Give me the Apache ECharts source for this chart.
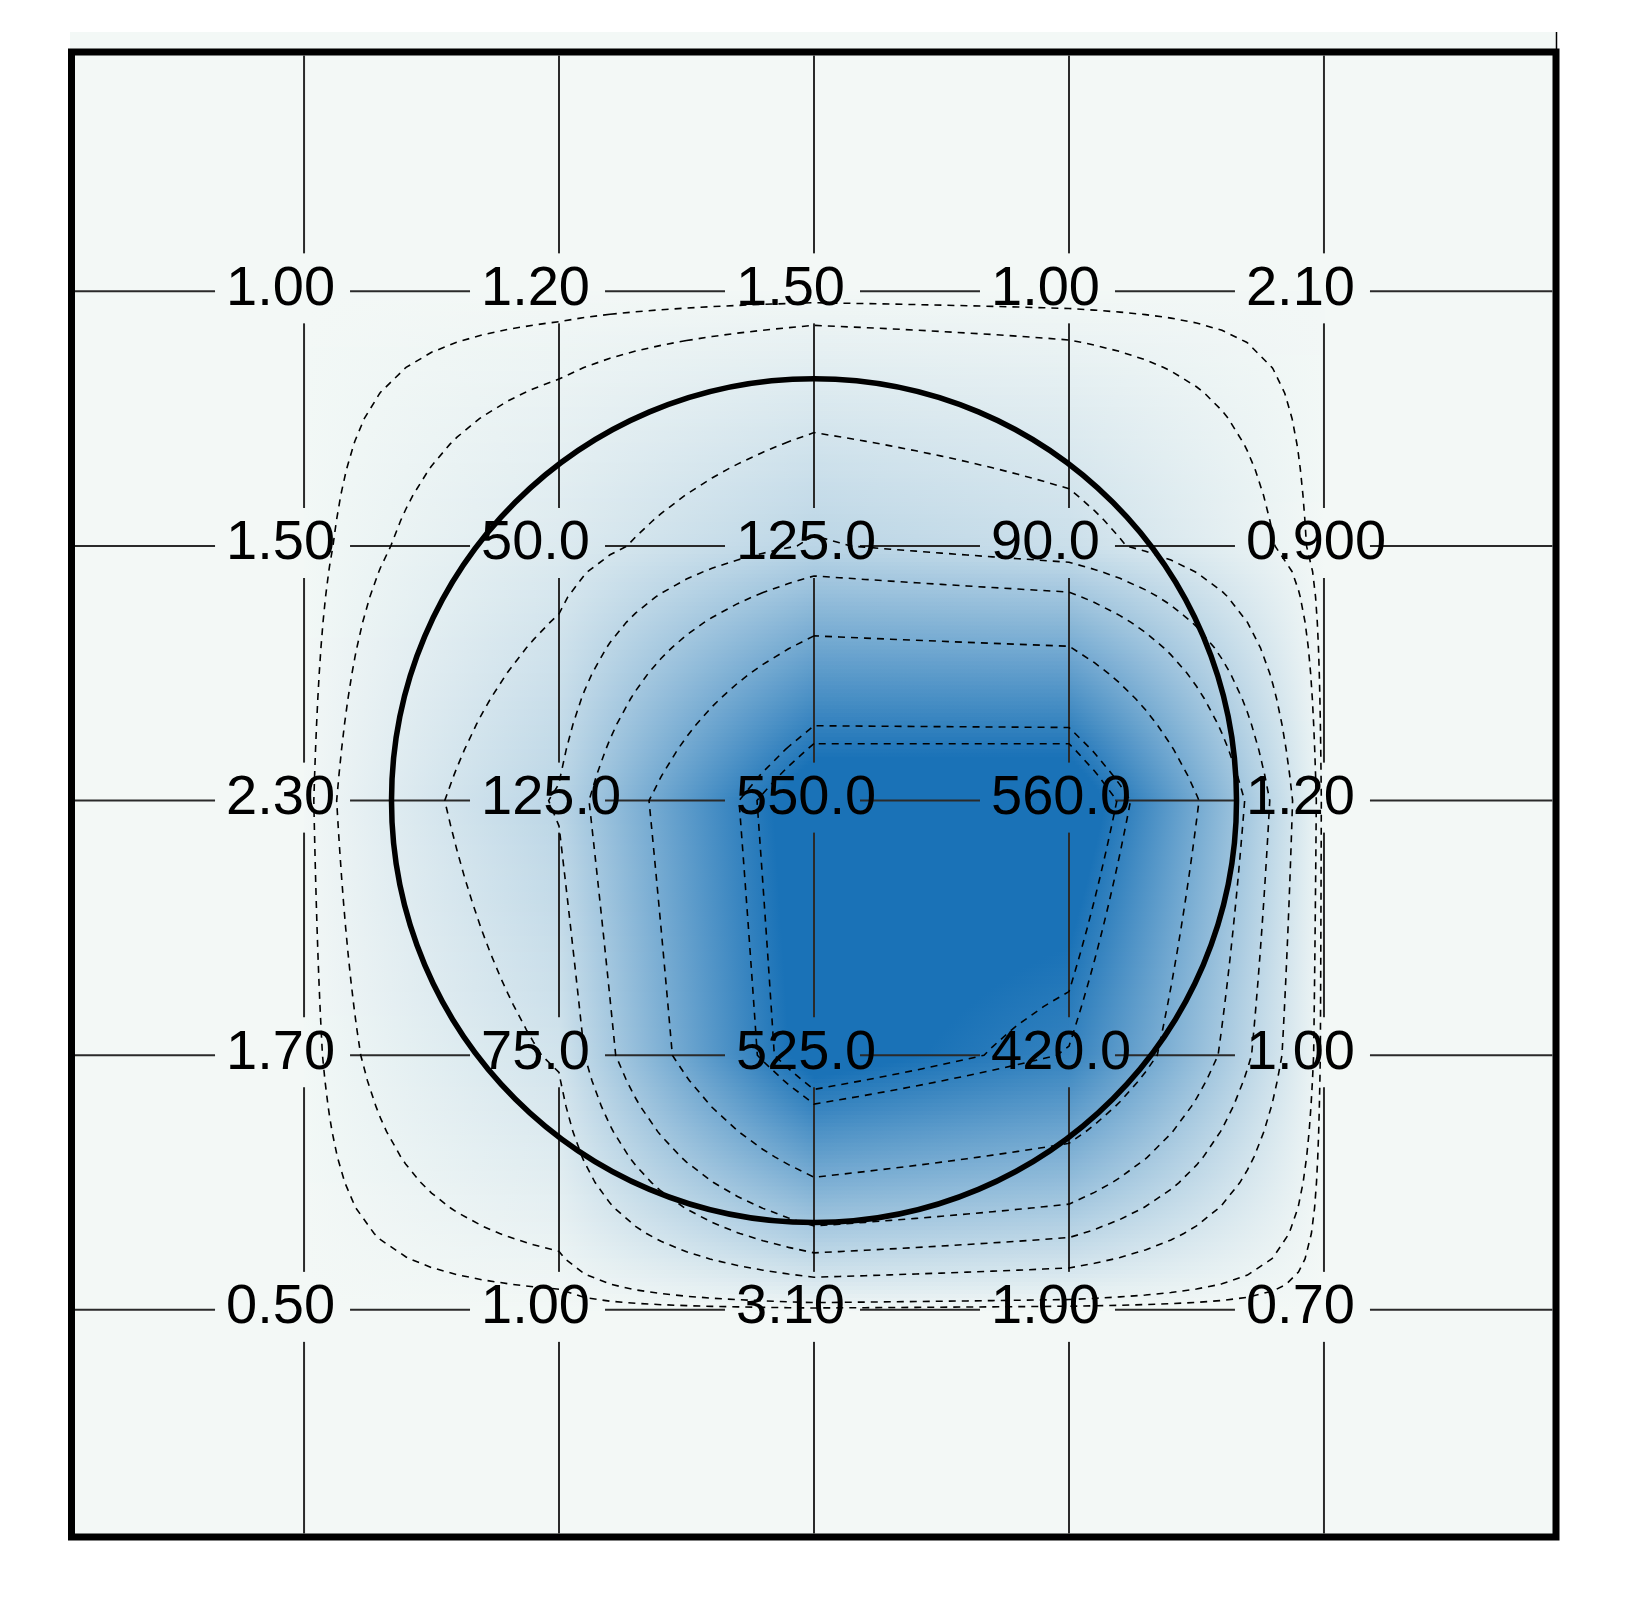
<!DOCTYPE html>
<html>
<head>
<meta charset="utf-8">
<title>Grid values</title>
<script src="https://cdn.jsdelivr.net/npm/echarts@6/dist/echarts.min.js"></script>
<style>
  html, body { margin: 0; padding: 0; background: #fff; }
  #chart { width: 1626px; height: 1616px; }
</style>
</head>
<body>
<div id="chart"></div>
<script>
  // grid positions, columns left to right and rows top to bottom
  var colPos = [1, 2, 3, 4, 5]
  var rowPos = [1, 2, 3, 4, 5]

  // values per row
  var row1 = [1.00, 1.20, 1.50, 1.00, 2.10]
  var row2 = [1.50, 50.0, 125.0, 90.0, 0.900]
  var row3 = [2.30, 125.0, 550.0, 560.0, 1.20]
  var row4 = [1.70, 75.0, 525.0, 420.0, 1.00]
  var row5 = [0.50, 1.00, 3.10, 1.00, 0.70]

  // printed labels per row
  var labels1 = ['1.00', '1.20', '1.50', '1.00', '2.10']
  var labels2 = ['1.50', '50.0', '125.0', '90.0', '0.900']
  var labels3 = ['2.30', '125.0', '550.0', '560.0', '1.20']
  var labels4 = ['1.70', '75.0', '525.0', '420.0', '1.00']
  var labels5 = ['0.50', '1.00', '3.10', '1.00', '0.70']

  var contourLevels = [7, 18, 70, 120, 175, 275, 425, 455]
  var circleCenter = [3, 3]
  var circleRadius = 1.657

  var values = [row1, row2, row3, row4, row5]
  var labels = [labels1, labels2, labels3, labels4, labels5]

  var BG = '#f3f8f6'
  var LOW = '#f3f8f6'
  var HIGH = '#1a72b7'
  var VMAX = 480

  function shade (v) {
    var t = Math.min(Math.max(v / VMAX, 0), 1)
    return echarts.color.lerp(t, [LOW, HIGH])
  }

  // bilinear value inside the data grid (x, y in axis units)
  function field (x, y) {
    var i = Math.min(Math.floor(x - colPos[0]), colPos.length - 2)
    var j = Math.min(Math.floor(y - rowPos[0]), rowPos.length - 2)
    var tx = x - colPos[i]
    var ty = y - rowPos[j]
    var a = values[j][i], b = values[j][i + 1]
    var c = values[j + 1][i], d = values[j + 1][i + 1]
    return (a * (1 - tx) + b * tx) * (1 - ty) + (c * (1 - tx) + d * tx) * ty
  }

  function contourLines (level) {
    var R = 10
    var nx = (colPos.length - 1) * R + 1
    var ny = (rowPos.length - 1) * R + 1
    var S = []
    for (var j = 0; j < ny; j++) {
      S.push([])
      for (var i = 0; i < nx; i++) S[j].push(field(colPos[0] + i / R, rowPos[0] + j / R))
    }
    var pts = {}
    var segs = []
    function edge (id, v0, v1, x0, y0, x1, y1) {
      if ((v0 >= level) === (v1 >= level)) return null
      if (!pts[id]) {
        var t = (level - v0) / (v1 - v0)
        pts[id] = [x0 + (x1 - x0) * t, y0 + (y1 - y0) * t]
      }
      return id
    }
    for (j = 0; j < ny - 1; j++) {
      for (i = 0; i < nx - 1; i++) {
        var a = S[j][i], b = S[j][i + 1], c = S[j + 1][i + 1], d = S[j + 1][i]
        var x0 = colPos[0] + i / R, x1 = colPos[0] + (i + 1) / R
        var y0 = rowPos[0] + j / R, y1 = rowPos[0] + (j + 1) / R
        var top = edge('h' + j + '_' + i, a, b, x0, y0, x1, y0)
        var right = edge('v' + j + '_' + (i + 1), b, c, x1, y0, x1, y1)
        var bottom = edge('h' + (j + 1) + '_' + i, d, c, x0, y1, x1, y1)
        var left = edge('v' + j + '_' + i, a, d, x0, y0, x0, y1)
        var hits = [top, right, bottom, left].filter(function (e) { return e })
        if (hits.length === 2) {
          segs.push(hits)
        } else if (hits.length === 4) {
          var mid = (a + b + c + d) / 4
          if ((mid >= level) === (a >= level)) {
            segs.push([top, right]); segs.push([bottom, left])
          } else {
            segs.push([top, left]); segs.push([right, bottom])
          }
        }
      }
    }
    var byEdge = {}
    segs.forEach(function (s, k) {
      s.forEach(function (e) { (byEdge[e] = byEdge[e] || []).push(k) })
    })
    var used = []
    var lines = []
    function walk (startSeg, startEdge) {
      var line = [pts[startEdge]]
      var seg = startSeg, from = startEdge
      while (seg !== undefined && !used[seg]) {
        used[seg] = true
        var to = segs[seg][0] === from ? segs[seg][1] : segs[seg][0]
        line.push(pts[to])
        var next = (byEdge[to] || []).filter(function (k) { return !used[k] })
        seg = next[0]
        from = to
      }
      lines.push(line)
    }
    Object.keys(byEdge).forEach(function (e) {
      if (byEdge[e].length === 1 && !used[byEdge[e][0]]) walk(byEdge[e][0], e)
    })
    segs.forEach(function (s, k) { if (!used[k]) walk(k, s[0]) })
    return lines
  }

  var cells = []
  for (var r = 0; r < rowPos.length - 1; r++) {
    for (var c = 0; c < colPos.length - 1; c++) cells.push([c, r])
  }
  var points = []
  for (r = 0; r < rowPos.length; r++) {
    for (c = 0; c < colPos.length; c++) points.push([colPos[c], rowPos[r], values[r][c]])
  }

  var chart = echarts.init(document.getElementById('chart'))

  var option = {
    animation: false,
    backgroundColor: '#ffffff',
    grid: {
      left: 71.5,
      right: 70,
      top: 52,
      bottom: 79,
      show: true,
      backgroundColor: BG,
      borderColor: '#000',
      borderWidth: 7
    },
    xAxis: { type: 'value', min: 0.088, max: 5.910, show: false },
    yAxis: { type: 'value', min: 0.060, max: 5.892, inverse: true, show: false },
    graphic: [
      { type: 'rect', z: -1, shape: { x: 70, y: 32, width: 1486, height: 20 }, style: { fill: BG } },
      { type: 'line', z: -1, shape: { x1: 1556.5, y1: 32, x2: 1556.5, y2: 52 }, style: { stroke: '#000', lineWidth: 1.5 } }
    ],
    series: [
      {
        type: 'custom',
        name: 'shading',
        z: 1,
        silent: true,
        data: cells,
        renderItem: function (params, api) {
          var ci = api.value(0), ri = api.value(1)
          var p0 = api.coord([colPos[ci], rowPos[ri]])
          var p1 = api.coord([colPos[ci + 1], rowPos[ri + 1]])
          var N = 64
          var kids = []
          for (var k = 0; k < N; k++) {
            var s = (k + 0.5) / N
            var vL = values[ri][ci] + (values[ri + 1][ci] - values[ri][ci]) * s
            var vR = values[ri][ci + 1] + (values[ri + 1][ci + 1] - values[ri][ci + 1]) * s
            var stops = [{ offset: 0, color: shade(vL) }]
            if ((vL - VMAX) * (vR - VMAX) < 0) {
              stops.push({ offset: (VMAX - vL) / (vR - vL), color: shade(VMAX) })
            }
            stops.push({ offset: 1, color: shade(vR) })
            var y = p0[1] + (p1[1] - p0[1]) * k / N
            kids.push({
              type: 'rect',
              shape: { x: p0[0], y: y, width: p1[0] - p0[0] + 1, height: (p1[1] - p0[1]) / N + 1 },
              style: { fill: { type: 'linear', x: 0, y: 0, x2: 1, y2: 0, colorStops: stops } }
            })
          }
          return { type: 'group', children: kids }
        }
      },
      {
        type: 'custom',
        name: 'grid lines',
        z: 2,
        silent: true,
        data: [0],
        renderItem: function (params, api) {
          var cs = params.coordSys
          var x0 = cs.x + 3.5, x1 = cs.x + cs.width - 3.5
          var y0 = cs.y + 3.5, y1 = cs.y + cs.height - 3.5
          var kids = []
          var lineStyle = { stroke: '#2a2a2a', lineWidth: 2 }
          rowPos.forEach(function (ry) {
            var start = x0
            colPos.forEach(function (cx) {
              var p = api.coord([cx, ry])
              kids.push({ type: 'line', shape: { x1: start, y1: p[1], x2: p[0] - 89, y2: p[1] }, style: lineStyle })
              start = p[0] + 46
            })
            kids.push({ type: 'line', shape: { x1: start, y1: api.coord([colPos[0], ry])[1], x2: x1, y2: api.coord([colPos[0], ry])[1] }, style: lineStyle })
          })
          colPos.forEach(function (cx) {
            var start = y0
            rowPos.forEach(function (ry) {
              var p = api.coord([cx, ry])
              kids.push({ type: 'line', shape: { x1: p[0], y1: start, x2: p[0], y2: p[1] - 38 }, style: lineStyle })
              start = p[1] + 32
            })
            var px = api.coord([cx, rowPos[0]])[0]
            kids.push({ type: 'line', shape: { x1: px, y1: start, x2: px, y2: y1 }, style: lineStyle })
          })
          return { type: 'group', children: kids }
        }
      },
      {
        type: 'custom',
        name: 'contours',
        z: 3,
        silent: true,
        data: contourLevels,
        renderItem: function (params, api) {
          var level = api.value(0)
          var kids = contourLines(level).map(function (line) {
            return {
              type: 'polyline',
              shape: { points: line.map(function (q) { return api.coord(q) }) },
              style: { stroke: '#000', lineWidth: 1.6, lineDash: [7, 6], fill: null }
            }
          })
          return { type: 'group', children: kids }
        }
      },
      {
        type: 'custom',
        name: 'circle',
        z: 4,
        silent: true,
        data: [circleCenter],
        renderItem: function (params, api) {
          var p = api.coord([api.value(0), api.value(1)])
          var sz = api.size([circleRadius, circleRadius])
          return {
            type: 'ellipse',
            shape: { cx: p[0], cy: p[1], rx: sz[0], ry: sz[1] },
            style: { stroke: '#000', lineWidth: 5.5, fill: null }
          }
        }
      },
      {
        type: 'custom',
        name: 'labels',
        z: 5,
        silent: true,
        data: points,
        renderItem: function (params, api) {
          var p = api.coord([api.value(0), api.value(1)])
          var ci = colPos.indexOf(api.value(0))
          var ri = rowPos.indexOf(api.value(1))
          return {
            type: 'text',
            x: p[0] - 78,
            y: p[1] - 2,
            style: {
              text: labels[ri][ci],
              fill: '#000',
              font: '56px "Liberation Sans", Arial, sans-serif',
              align: 'left',
              verticalAlign: 'middle'
            }
          }
        }
      }
    ]
  }

  chart.setOption(option)
</script>
</body>
</html>
